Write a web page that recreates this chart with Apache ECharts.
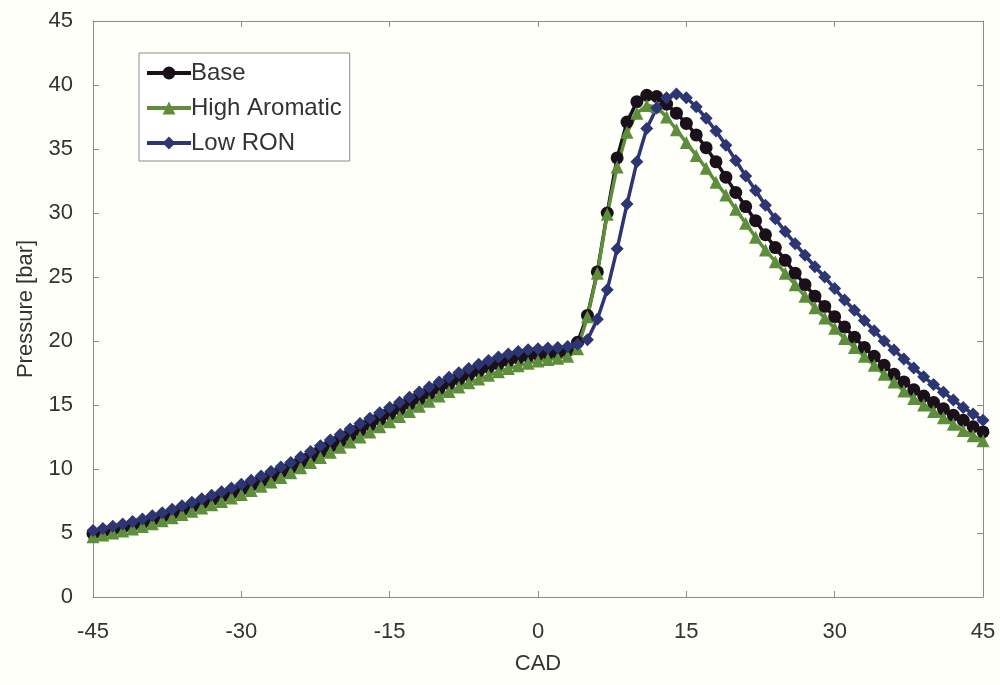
<!DOCTYPE html>
<html>
<head>
<meta charset="utf-8">
<script src="https://cdn.jsdelivr.net/npm/echarts@6/dist/echarts.min.js"></script>
<style>
html,body{margin:0;padding:0;background:#fffffa;}
#chart{width:1000px;height:685px;}
</style>
</head>
<body>
<div id="chart"></div>
<script>
// Crank angle (CAD), one point per degree
var cad = [];
for (var c = -45; c <= 45; c++) cad.push(c);

var xTicks = [-45, -30, -15, 0, 15, 30, 45];
var yTicks = [0, 5, 10, 15, 20, 25, 30, 35, 40, 45];

var seriesNames = ['Base', 'High Aromatic', 'Low RON'];

var base = [
 4.95, 5.11, 5.27, 5.44, 5.62, 5.80, 6.03, 6.27, 6.52, 6.78,
 7.05, 7.31, 7.58, 7.85, 8.12, 8.40, 8.73, 9.06, 9.40, 9.75,
 10.10, 10.52, 10.94, 11.36, 11.78, 12.20, 12.62, 13.04, 13.46, 13.88,
 14.30, 14.70, 15.10, 15.50, 15.90, 16.30, 16.67, 17.02, 17.35, 17.66,
 17.95, 18.22, 18.46, 18.66, 18.82, 18.95, 19.03, 19.10, 19.25, 19.90,
 22.0, 25.4, 30.0, 34.3, 37.1, 38.7, 39.2, 39.1, 38.5, 37.8,
 37.0, 36.1, 35.1, 34.0, 32.8, 31.6, 30.5, 29.4, 28.3, 27.3,
 26.3, 25.3, 24.4, 23.5, 22.7, 21.9, 21.1, 20.3, 19.5, 18.8,
 18.1, 17.4, 16.8, 16.2, 15.7, 15.2, 14.7, 14.2, 13.8, 13.3,
 12.9
];

var highAromatic = [
 4.70, 4.85, 5.00, 5.15, 5.32, 5.50, 5.72, 5.95, 6.19, 6.44,
 6.70, 6.95, 7.20, 7.46, 7.73, 8.00, 8.32, 8.65, 8.99, 9.34,
 9.70, 10.10, 10.50, 10.90, 11.30, 11.70, 12.10, 12.50, 12.90, 13.30,
 13.70, 14.10, 14.50, 14.90, 15.30, 15.70, 16.05, 16.40, 16.73, 17.03,
 17.32, 17.60, 17.85, 18.07, 18.27, 18.43, 18.55, 18.65, 18.80, 19.40,
 21.9, 25.3, 29.9, 33.6, 36.3, 37.8, 38.4, 38.3, 37.5, 36.5,
 35.5, 34.5, 33.5, 32.4, 31.4, 30.3, 29.2, 28.1, 27.1, 26.2,
 25.3, 24.4, 23.5, 22.6, 21.8, 21.0, 20.2, 19.5, 18.8, 18.1,
 17.4, 16.8, 16.1, 15.5, 15.0, 14.5, 14.0, 13.5, 13.0, 12.6,
 12.2
];

var lowRON = [
 5.20, 5.36, 5.53, 5.71, 5.90, 6.10, 6.34, 6.59, 6.85, 7.12,
 7.40, 7.67, 7.95, 8.23, 8.51, 8.80, 9.12, 9.45, 9.80, 10.15,
 10.50, 10.93, 11.37, 11.81, 12.26, 12.70, 13.13, 13.55, 13.97, 14.39,
 14.80, 15.21, 15.61, 16.01, 16.41, 16.80, 17.17, 17.52, 17.86, 18.18,
 18.48, 18.75, 18.98, 19.17, 19.31, 19.40, 19.45, 19.50, 19.58, 19.75,
 20.10, 21.7, 24.0, 27.2, 30.7, 34.0, 36.6, 38.2, 39.0, 39.3,
 39.0, 38.3, 37.4, 36.4, 35.3, 34.1, 32.9, 31.75, 30.6, 29.55,
 28.55, 27.6, 26.7, 25.8, 25.0, 24.1, 23.2, 22.4, 21.6, 20.8,
 20.0, 19.3, 18.6, 17.9, 17.2, 16.6, 16.0, 15.4, 14.8, 14.3,
 13.8
];

function pairs(vals) {
  return cad.map(function (x, i) { return [x, vals[i]]; });
}

var chart = echarts.init(document.getElementById('chart'), null, {renderer: 'canvas'});
var txt = '#333333';
var axisCol = '#8a8a8a';
var font = 'Liberation Sans, Arial, sans-serif';

var xCommon = {
  type: 'value', min: xTicks[0], max: xTicks[xTicks.length - 1],
  interval: xTicks[1] - xTicks[0],
  splitLine: {show: false},
  axisLine: {show: true, onZero: false, lineStyle: {color: axisCol, width: 1}},
  axisTick: {show: true, inside: true, length: 6, lineStyle: {color: axisCol}}
};
var yCommon = {
  type: 'value', min: yTicks[0], max: yTicks[yTicks.length - 1],
  interval: yTicks[1] - yTicks[0],
  splitLine: {show: false},
  axisLine: {show: true, onZero: false, lineStyle: {color: axisCol, width: 1}},
  axisTick: {show: true, inside: true, length: 6, lineStyle: {color: axisCol}}
};

chart.setOption({
  animation: false,
  backgroundColor: '#fffffa',
  textStyle: {fontFamily: font},
  grid: {left: 93, right: 17, top: 21, bottom: 88, containLabel: false},
  legend: {
    data: seriesNames,
    orient: 'vertical',
    left: 139, top: 53,
    backgroundColor: '#ffffff',
    borderColor: '#8a8a8a', borderWidth: 1, borderRadius: 0,
    padding: [8, 8, 6, 6],
    itemWidth: 44, itemHeight: 16, itemGap: 11,
    lineStyle: {width: 4},
    textStyle: {fontSize: 24, color: txt, fontFamily: font, padding: [0, 0, 0, -5]}
  },
  xAxis: [
    Object.assign({}, xCommon, {
      position: 'bottom',
      name: 'CAD', nameLocation: 'middle', nameGap: 56,
      nameTextStyle: {fontSize: 22, color: txt, fontFamily: font},
      axisLabel: {fontSize: 22, color: txt, margin: 24, fontFamily: font}
    }),
    Object.assign({}, xCommon, {position: 'top', axisLabel: {show: false}})
  ],
  yAxis: [
    Object.assign({}, yCommon, {
      position: 'left',
      name: 'Pressure [bar]', nameLocation: 'middle', nameGap: 56,
      nameTextStyle: {fontSize: 22, color: txt, fontFamily: font},
      axisLabel: {fontSize: 22, color: txt, margin: 20, fontFamily: font}
    }),
    Object.assign({}, yCommon, {position: 'right', axisLabel: {show: false}})
  ],
  series: [
    {
      name: seriesNames[0], type: 'line', data: pairs(base),
      xAxisIndex: 0, yAxisIndex: 0,
      symbol: 'circle', symbolSize: 13, showAllSymbol: true,
      lineStyle: {color: '#1a101a', width: 3.5},
      itemStyle: {color: '#1a101a'}
    },
    {
      name: seriesNames[1], type: 'line', data: pairs(highAromatic),
      xAxisIndex: 0, yAxisIndex: 0,
      symbol: 'triangle', symbolSize: 13, showAllSymbol: true,
      lineStyle: {color: '#5e8e3c', width: 3.5},
      itemStyle: {color: '#5e8e3c'}
    },
    {
      name: seriesNames[2], type: 'line', data: pairs(lowRON),
      xAxisIndex: 0, yAxisIndex: 0,
      symbol: 'diamond', symbolSize: 13, showAllSymbol: true,
      lineStyle: {color: '#2d3572', width: 3.5},
      itemStyle: {color: '#2d3572'}
    }
  ]
});
</script>
</body>
</html>
